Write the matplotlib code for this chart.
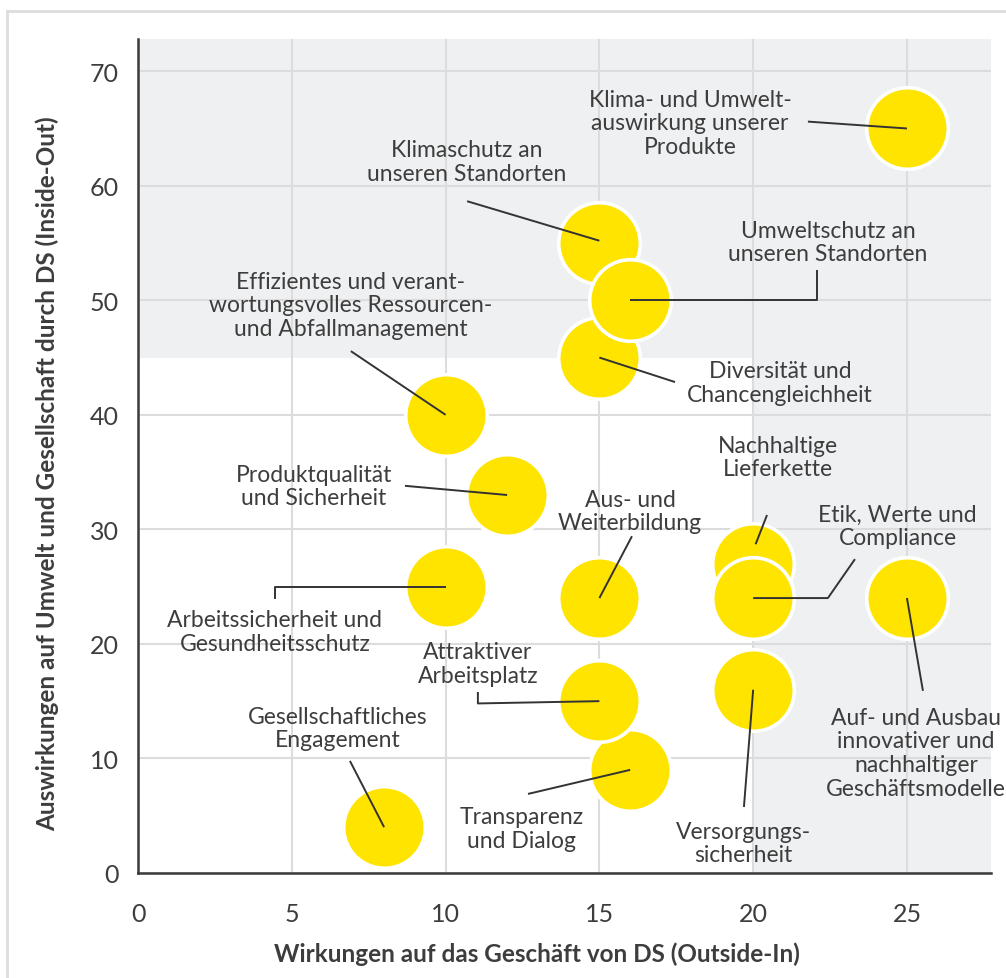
import matplotlib.pyplot as plt
from matplotlib.lines import Line2D

plt.rcParams['font.family'] = ['Lato', 'DejaVu Sans']

# topics of the materiality matrix (drawing order = stacking order)
topics = [
    'Klima- und Umwelt-\nauswirkung unserer\nProdukte',
    'Klimaschutz an\nunseren Standorten',
    'Diversität und\nChancengleichheit',
    'Umweltschutz an\nunseren Standorten',
    'Effizientes und verant-\nwortungsvolles Ressourcen-\nund Abfallmanagement',
    'Produktqualität\nund Sicherheit',
    'Nachhaltige\nLieferkette',
    'Etik, Werte und\nCompliance',
    'Aus- und\nWeiterbildung',
    'Arbeitssicherheit und\nGesundheitsschutz',
    'Auf- und Ausbau\ninnovativer und\nnachhaltiger\nGeschäftsmodelle',
    'Transparenz\nund Dialog',
    'Attraktiver\nArbeitsplatz',
    'Versorgungs-\nsicherheit',
    'Gesellschaftliches\nEngagement',
]
outside_in = [25, 15, 15, 16, 10, 12, 20, 20, 15, 10, 25, 16, 15, 20, 8]
inside_out = [65, 55, 45, 50, 40, 33, 27, 24, 24, 25, 24, 9, 15, 16, 4]

x_ticks = [0, 5, 10, 15, 20, 25]
y_ticks = [0, 10, 20, 30, 40, 50, 60, 70]

# label centres and leader line bend points (data units)
label_xy = [
    (17.95, 65.5), (10.7, 62.1), (20.87, 42.8), (22.43, 55.07),
    (6.92, 49.6), (5.72, 33.8), (20.8, 36.3), (24.7, 30.3),
    (16.0, 31.6), (4.45, 21.1), (25.3, 10.5), (12.48, 3.9),
    (11.05, 18.3), (19.67, 2.6), (6.5, 12.65),
]
leader_pts = [
    [(21.78, 65.6)],
    [(10.7, 58.65), (15.0, 55.2)],
    [(17.46, 42.86)],
    [(22.07, 52.6), (22.07, 50.0)],
    [(6.92, 45.56)],
    [(8.68, 33.8)],
    [(20.45, 31.25), (20.08, 28.7)],
    [(23.31, 27.4), (22.43, 24.0)],
    [(16.06, 29.4)],
    [(4.45, 23.9), (4.45, 25.0)],
    [(25.52, 15.9)],
    [(12.68, 6.9)],
    [(11.05, 15.8), (11.05, 14.8)],
    [(19.7, 5.76)],
    [(6.89, 9.78)],
]

text_col = '#3d3d3d'
shade = '#eff0f2'

fig = plt.figure(figsize=(10.06, 9.79), dpi=100)
ax = fig.add_axes([0.1372, 0.1073, 0.8478, 0.8517])

xmax, ymax = 27.73, 72.8
ax.set_xlim(0, xmax)
ax.set_ylim(0, ymax)

# shaded zones
ax.axhspan(45, ymax, color=shade, lw=0, zorder=0)
ax.axvspan(20, xmax, color=shade, lw=0, zorder=0)

ax.set_xticks(x_ticks)
ax.set_yticks(y_ticks)
ax.grid(True, color='#dcdcdc', lw=1.5, zorder=1)
ax.set_axisbelow(True)
ax.tick_params(length=0, labelsize=18, labelcolor=text_col)
ax.tick_params(axis='x', pad=21)
ax.tick_params(axis='y', pad=14)

for s in ['top', 'right']:
    ax.spines[s].set_visible(False)
for s in ['left', 'bottom']:
    ax.spines[s].set_color('#3a3a3a')
    ax.spines[s].set_linewidth(1.8)
    ax.spines[s].set_zorder(6)

ax.scatter(outside_in, inside_out, s=3450, color='#ffe400',
           edgecolor='white', linewidth=2.6, zorder=3, clip_on=False)

for i, lab in enumerate(topics):
    tx, ty = label_xy[i]
    ax.text(tx, ty, lab, ha='center', va='center', fontsize=16.5,
            color=text_col, linespacing=1.15, zorder=5)
    pts = leader_pts[i] + [(outside_in[i], inside_out[i])]
    if i in (1, 6):
        pts = leader_pts[i]
    xs = [p[0] for p in pts]
    ys = [p[1] for p in pts]
    ax.plot(xs, ys, color='#333333', lw=1.4, zorder=4, solid_capstyle='butt')

ax.set_xlabel('Wirkungen auf das Geschäft von DS (Outside-In)',
              fontsize=17.5, fontweight='bold', color=text_col)
ax.xaxis.set_label_coords(0.468, -0.082)
ax.set_ylabel('Auswirkungen auf Umwelt und Gesellschaft durch DS (Inside-Out)',
              fontsize=17.5, fontweight='bold', color=text_col)
ax.yaxis.set_label_coords(-0.093, 0.48)

# light frame around the figure
fig.add_artist(Line2D([7 / 1006, 7 / 1006], [0, 1 - 12 / 979],
                      transform=fig.transFigure, color='#dddddd', lw=2))
fig.add_artist(Line2D([7 / 1006, 1], [1 - 12 / 979, 1 - 12 / 979],
                      transform=fig.transFigure, color='#dddddd', lw=2))

fig.savefig('out.png', dpi=100)
